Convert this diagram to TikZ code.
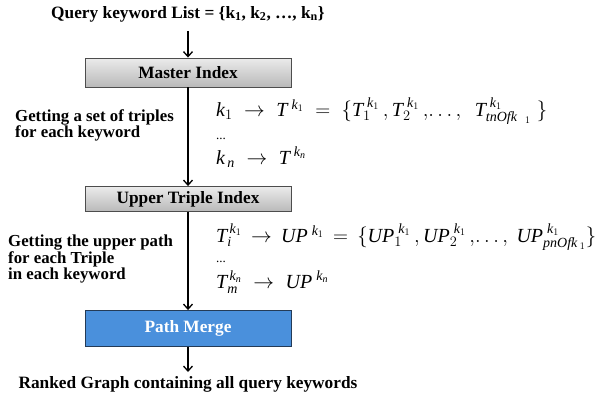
\documentclass[tikz,border=0pt]{standalone}
\usepackage{fontspec}
\setmainfont{Liberation Serif}
\usetikzlibrary{arrows.meta}
\definecolor{boxtop}{HTML}{EBEBEB}
\definecolor{boxbot}{HTML}{B9B9B9}
\definecolor{boxedge}{HTML}{4D4D4D}
\definecolor{pmblue}{HTML}{4A90DC}
\definecolor{pmedge}{HTML}{243B57}
\newcommand\mk[1]{\mathit{#1}}
\begin{document}
\begin{tikzpicture}[x=1pt,y=-1pt,
  arr/.style={line width=1.3pt,-{Straight Barb[length=5pt,width=9pt,line width=1.3pt]}},
  boxbase/.style={minimum width=206pt,inner sep=0pt,line width=0.9pt,
    font=\bfseries\fontsize{17.3}{19}\selectfont},
  graybox/.style={boxbase,draw=boxedge,top color=boxtop,bottom color=boxbot},
  bluebox/.style={boxbase,draw=pmedge,fill=pmblue,text=white},
  bold/.style={font=\bfseries\fontsize{17.3}{19}\selectfont,inner sep=0pt},
  lab/.style={font=\bfseries\fontsize{16.8}{14.5}\selectfont,align=left,anchor=north west,inner sep=0pt},
  mth/.style={font=\fontsize{20}{24}\selectfont,anchor=west,inner sep=0pt},
  dots/.style={font=\fontsize{13}{13}\selectfont,anchor=west,inner sep=0pt}]
\useasboundingbox (0,0) rectangle (601,396);

\node[bold] (q) at (188,14) {Query keyword List = \{k\textsubscript{1}, k\textsubscript{2}, …, k\textsubscript{n}\}};
\node[graybox,minimum height=29pt] (mi) at (188,72.5) {Master Index};
\node[graybox,minimum height=25pt] (ut) at (188,199) {Upper Triple Index};
\node[bluebox,minimum height=36pt] (pm) at (188,328.5) {Path Merge};
\node[bold] (rg) at (188,384) {Ranked Graph containing all query keywords};

\coordinate (qb) at (188,31);
\coordinate (rt) at (188,372);
\draw[arr] (qb) -- (mi.north);
\draw[arr] (mi.south) -- (ut.north);
\draw[arr] (ut.south) -- (pm.north);
\draw[arr] (pm.south) -- (rt);

\node[lab] (l1) at (15,109) {Getting a set of triples\\for each keyword};
\node[lab] (l2) at (8,235) {Getting the upper path\\for each Triple\\in each keyword};

\node[mth] (m1) at (216,111) {$\mk{k}_{1} \;\rightarrow\; \mk{T}^{\;\mk{k}_1} \;=\; \{\mk{T}_{1}^{\;\mk{k}_1}\,,\mk{T}_{2}^{\;\mk{k}_1}\,,\!\ldots,\ \ \mk{T}_{\mk{tnOfk}\;\;_1}^{\;\mk{k}_1}\;\}$};
\node[dots] (d1) at (216,139) {...};
\node[mth] (m2) at (216,157) {$\mk{k}_{\,\mk{n}} \;\rightarrow\; \mk{T}^{\;\mk{k}_{\mk{n}}}$};

\node[mth] (m3) at (216,237) {$\mk{T}_{\mk{i}}^{\,\mk{k}_1} \,\rightarrow\, \mk{UP}^{\;\mk{k}_1} \,=\, \{\mk{UP}_{1}^{\;\mk{k}_1}\,,\mk{UP}_{2}^{\;\mk{k}_1}\,,\!\ldots,\ \mk{UP}_{\mk{pnOfk}\,_1}^{\;\mk{k}_1}\}$};
\node[dots] (d2) at (216,262) {...};
\node[mth] (m4) at (216,282) {$\mk{T}_{\mk{m}}^{\,\mk{k}_{\mk{n}}} \;\rightarrow\; \mk{UP}^{\;\mk{k}_{\mk{n}}}$};
\end{tikzpicture}
\end{document}
